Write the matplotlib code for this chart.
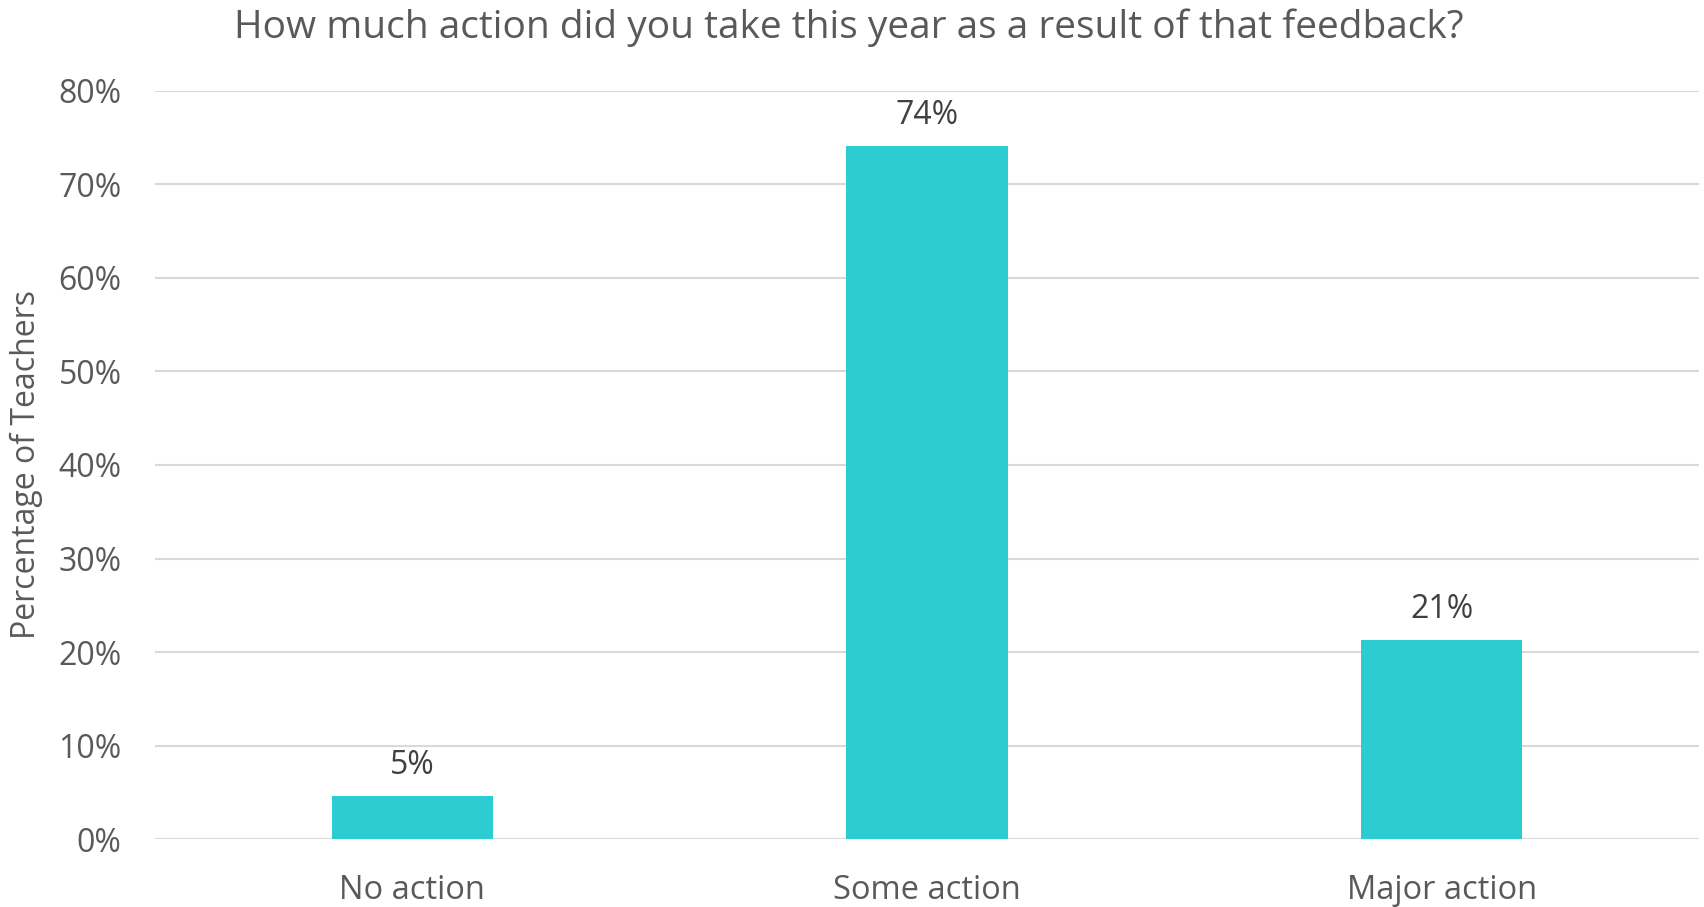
import matplotlib
matplotlib.use("Agg")
import matplotlib.pyplot as plt

categories = ["No action", "Some action", "Major action"]
values = [4.6, 74.1, 21.3]
value_labels = ["5%", "74%", "21%"]
yticks = [0, 10, 20, 30, 40, 50, 60, 70, 80]
ytick_labels = ["0%", "10%", "20%", "30%", "40%", "50%", "60%", "70%", "80%"]

plt.rcParams['font.family'] = ['Open Sans', 'DejaVu Sans']
TXT = "#595959"
BAR = "#2DCCD3"

fig = plt.figure(figsize=(17.04, 9.07), dpi=100)
ax = fig.add_axes([155/1704, 67.7/907, (1699-155)/1704, (839.3-90.5)/907])

x = list(range(len(categories)))
ax.bar(x, values, width=0.313, color=BAR, zorder=3)
ax.set_xlim(-0.5, len(categories) - 0.5)
ax.set_ylim(0, 80)
ax.set_yticks(yticks)
ax.set_yticklabels(ytick_labels, fontsize=23, color=TXT)
ax.set_xticks(x)
ax.set_xticklabels(categories, fontsize=23.5, color=TXT)
ax.tick_params(axis='both', length=0)
ax.tick_params(axis='y', pad=24)
ax.tick_params(axis='x', pad=25)
ax.grid(axis='y', color="#D9D9D9", linewidth=1.5, zorder=0)
for s in ax.spines.values():
    s.set_visible(False)

for xi, v, lab in zip(x, values, value_labels):
    ax.annotate(lab, (xi, v), xytext=(0, 22), textcoords='offset points',
                ha='center', va='center', fontsize=23, color="#404040")

ax.set_ylabel("Percentage of Teachers", fontsize=23, color=TXT)
ax.yaxis.set_label_coords((26 - 155) / 1544, 0.5)
ax.yaxis.label.set_va('center')
fig.text(849/1704, 1 - 28/907, "How much action did you take this year as a result of that feedback?",
         ha='center', va='center', fontsize=28, color=TXT)

fig.savefig("out.png", dpi=100)
